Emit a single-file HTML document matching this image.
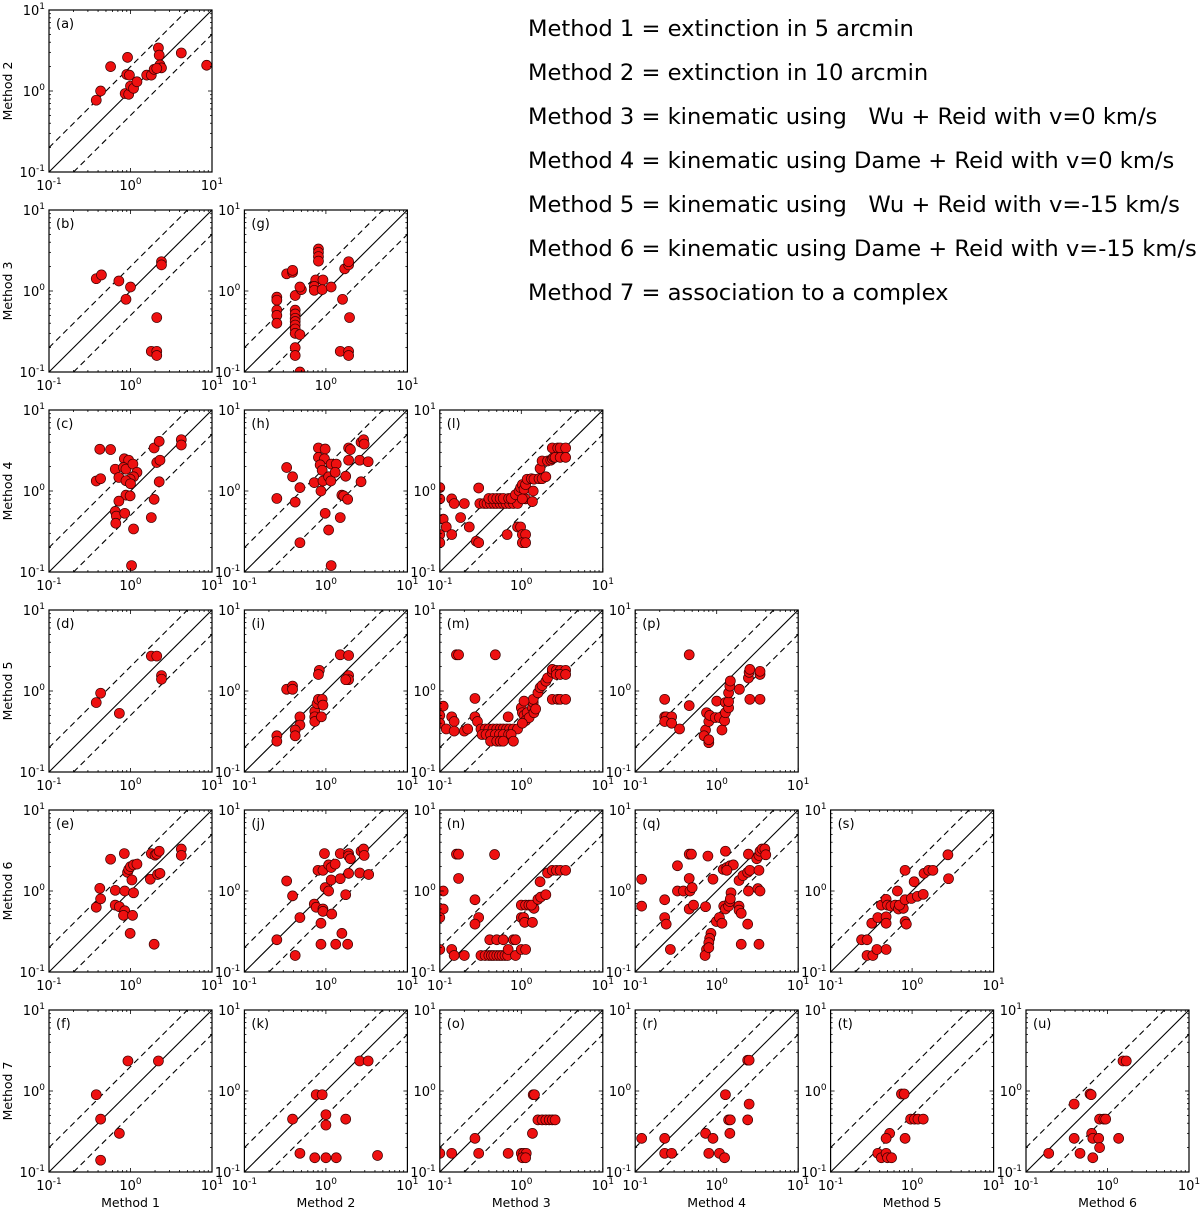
<!DOCTYPE html>
<html><head><meta charset="utf-8"><title>Method comparison matrix</title>
<style>
html,body{margin:0;padding:0;background:#fff;}
#wrap{position:relative;width:1200px;height:1217px;overflow:hidden;}
svg text{font-family:"DejaVu Sans","Liberation Sans",sans-serif;fill:#000;}
</style></head>
<body>
<div id="wrap">
<svg id="chart" width="1200" height="1217" viewBox="0 0 1200 1217" xmlns="http://www.w3.org/2000/svg">
<g font-size="22.6" style="white-space:pre">
<text x="528" y="36" xml:space="preserve">Method 1 = extinction in 5 arcmin</text>
<text x="528" y="80" xml:space="preserve">Method 2 = extinction in 10 arcmin</text>
<text x="528" y="124" xml:space="preserve">Method 3 = kinematic using   Wu + Reid with v=0 km/s</text>
<text x="528" y="168" xml:space="preserve">Method 4 = kinematic using Dame + Reid with v=0 km/s</text>
<text x="528" y="212" xml:space="preserve">Method 5 = kinematic using   Wu + Reid with v=-15 km/s</text>
<text x="528" y="256" xml:space="preserve">Method 6 = kinematic using Dame + Reid with v=-15 km/s</text>
<text x="528" y="300" xml:space="preserve">Method 7 = association to a complex</text>
</g>
</svg>
</div>
<script>
const methodNames = ["Method 1","Method 2","Method 3","Method 4","Method 5","Method 6","Method 7"];
const panelLetters = ["a","b","c","d","e","f","g","h","i","j","k","l","m","n","o","p","q","r","s","t","u"];
const tickValues = [0.1, 1, 10];
const tickExps = ["-1","0","1"];

const pA = [[0.38,0.77],[0.43,1.0],[0.57,2.0],[0.92,2.6],[0.86,0.93],[0.9,1.6],[0.97,1.57],[0.95,0.91],[1.0,1.15],[1.09,1.08],[1.2,1.3],[1.58,1.57],[1.8,1.57],[1.95,1.85],[2.2,3.4],[2.25,2.77],[2.3,2.1],[2.4,1.93],[2.1,1.9],[4.2,2.95],[8.6,2.08]];
const pB = [[0.38,1.42],[0.44,1.58],[0.72,1.33],[1.0,1.12],[0.88,0.79],[2.4,2.3],[2.4,2.1],[2.1,0.47],[1.8,0.18],[2.1,0.18],[2.1,0.16]];
const pC = [[0.38,1.33],[0.43,1.42],[0.42,3.28],[0.57,3.25],[0.65,1.86],[0.72,1.47],[0.84,2.5],[0.95,2.4],[0.82,1.95],[0.88,1.86],[1.07,2.15],[1.2,1.7],[1.09,1.5],[0.99,1.4],[0.88,1.34],[1.0,1.23],[0.88,0.89],[0.99,0.87],[0.72,0.75],[0.65,0.56],[0.67,0.49],[0.66,0.4],[0.85,0.53],[1.09,0.34],[1.03,0.12],[1.8,0.47],[1.95,0.79],[1.95,3.4],[2.25,4.1],[2.1,2.25],[2.3,2.4],[2.25,1.3],[4.2,4.3],[4.2,3.7]];
const pD = [[0.38,0.72],[0.43,0.94],[0.73,0.53],[1.8,2.7],[2.1,2.7],[2.4,1.55],[2.4,1.4]];
const pE = [[0.38,0.63],[0.42,1.08],[0.43,0.8],[0.57,2.47],[0.65,1.02],[0.65,0.67],[0.73,0.64],[0.84,2.9],[0.92,1.7],[0.95,1.85],[1.0,2.0],[1.09,2.1],[1.2,2.15],[1.04,1.37],[0.85,1.0],[1.09,0.95],[0.85,0.57],[0.82,0.5],[1.06,0.5],[0.99,0.3],[1.95,0.22],[1.75,1.4],[1.8,2.9],[2.0,2.77],[2.1,2.87],[2.25,3.1],[2.15,1.6],[2.3,1.65],[4.2,3.3],[4.2,2.75]];
const pF = [[0.38,0.9],[0.43,0.45],[0.73,0.3],[0.93,2.35],[2.2,2.35],[0.43,0.14]];
const pG = [[0.25,0.84],[0.25,0.77],[0.25,0.58],[0.25,0.5],[0.25,0.4],[0.33,1.63],[0.39,1.7],[0.39,1.8],[0.42,0.88],[0.42,0.58],[0.42,0.52],[0.42,0.46],[0.42,0.42],[0.42,0.38],[0.42,0.34],[0.42,0.3],[0.42,0.2],[0.42,0.16],[0.5,1.04],[0.48,1.12],[0.48,0.29],[0.48,0.1],[0.81,3.3],[0.81,3.0],[0.81,2.66],[0.81,2.34],[0.75,1.37],[0.72,1.14],[0.72,1.02],[0.92,1.37],[0.9,1.04],[1.16,1.12],[1.7,1.88],[1.9,2.1],[1.9,2.3],[1.6,0.79],[1.95,0.47],[1.5,0.18],[1.9,0.18],[1.9,0.16]];
const pH = [[0.25,0.81],[0.33,1.95],[0.39,1.5],[0.42,0.73],[0.48,1.1],[0.72,1.27],[0.81,3.4],[0.98,3.3],[0.81,2.6],[0.96,2.5],[0.85,2.1],[0.9,1.8],[0.92,1.33],[0.87,1.0],[1.08,1.5],[1.15,1.33],[1.16,2.15],[1.34,2.15],[1.3,1.7],[0.98,0.53],[1.08,0.33],[1.16,0.12],[0.48,0.23],[1.57,0.89],[1.65,0.87],[1.5,0.47],[1.85,0.79],[1.75,1.52],[1.9,2.4],[1.9,3.4],[2.0,3.25],[2.6,2.4],[2.7,4.0],[2.9,4.3],[2.95,3.8],[2.7,1.3],[3.3,2.3]];
const pI = [[0.25,0.28],[0.25,0.24],[0.33,1.05],[0.39,1.15],[0.39,1.05],[0.48,0.48],[0.48,0.38],[0.42,0.33],[0.42,0.28],[0.73,0.56],[0.73,0.48],[0.73,0.42],[0.78,0.7],[0.81,0.79],[0.83,1.8],[0.81,1.6],[0.88,0.48],[0.9,0.79],[0.92,0.67],[1.5,2.8],[1.9,2.75],[1.9,1.55],[1.9,1.38],[1.75,1.38]];
const pJ = [[0.25,0.25],[0.33,1.33],[0.39,0.87],[0.48,0.47],[0.42,0.16],[0.72,0.69],[0.76,0.63],[0.8,1.8],[0.92,1.8],[0.96,2.9],[0.92,0.6],[0.92,0.56],[0.87,0.4],[0.87,0.22],[0.98,1.1],[1.08,1.0],[1.08,2.1],[1.16,1.95],[1.16,1.37],[1.3,2.15],[1.18,0.52],[1.32,0.22],[1.5,2.9],[1.5,1.42],[1.57,0.3],[1.75,0.9],[1.85,0.22],[1.9,2.9],[1.9,2.7],[2.0,2.5],[1.9,1.65],[2.6,1.67],[2.7,3.1],[2.9,3.3],[2.95,2.75],[3.35,1.6]];
const pK = [[0.39,0.45],[0.48,0.17],[0.73,0.15],[1.0,0.15],[1.34,0.15],[0.76,0.9],[0.9,0.9],[1.0,0.51],[1.0,0.38],[1.75,0.45],[2.6,2.35],[3.3,2.35],[4.3,0.16]];
const pL = [[0.1,1.1],[0.1,0.8],[0.11,0.45],[0.1,0.29],[0.1,0.23],[0.12,0.36],[0.14,0.29],[0.14,0.8],[0.15,0.7],[0.18,0.47],[0.2,0.7],[0.23,0.36],[0.28,0.24],[0.3,0.23],[0.3,1.09],[0.31,0.7],[0.35,0.7],[0.38,0.7],[0.42,0.7],[0.46,0.7],[0.5,0.7],[0.55,0.7],[0.6,0.7],[0.65,0.7],[0.72,0.7],[0.8,0.7],[0.9,0.7],[0.4,0.81],[0.45,0.81],[0.5,0.81],[0.55,0.81],[0.6,0.81],[0.7,0.81],[0.75,0.81],[0.67,0.29],[0.9,0.36],[0.98,0.36],[1.03,0.29],[1.13,0.29],[1.03,0.23],[1.13,0.23],[0.85,0.9],[0.94,1.0],[0.98,1.1],[1.03,1.2],[1.08,1.05],[1.13,1.2],[1.13,0.8],[1.03,0.8],[1.18,1.4],[1.33,1.42],[1.37,0.74],[1.4,1.0],[1.43,1.4],[1.65,1.42],[1.8,1.42],[2.0,1.5],[1.7,1.9],[1.8,2.35],[2.1,2.35],[2.3,2.4],[2.4,2.5],[2.5,2.6],[2.4,3.4],[2.8,3.4],[3.0,3.4],[3.5,3.4],[2.6,2.6],[3.0,2.6],[3.5,2.6]];
const pM = [[0.16,2.8],[0.17,2.8],[0.48,2.8],[0.27,0.81],[0.11,0.65],[0.1,0.5],[0.1,0.4],[0.12,0.34],[0.14,0.48],[0.15,0.42],[0.15,0.32],[0.2,0.32],[0.22,0.34],[0.27,0.48],[0.29,0.42],[0.69,0.48],[0.32,0.34],[0.36,0.34],[0.4,0.34],[0.45,0.34],[0.5,0.34],[0.55,0.34],[0.6,0.34],[0.66,0.34],[0.72,0.34],[0.8,0.34],[0.9,0.34],[0.33,0.29],[0.37,0.29],[0.42,0.29],[0.48,0.29],[0.54,0.29],[0.6,0.29],[0.7,0.29],[0.75,0.29],[0.42,0.24],[0.5,0.24],[0.55,0.24],[0.6,0.24],[0.8,0.24],[1.0,0.62],[1.03,0.54],[1.08,0.5],[1.18,0.54],[1.13,0.43],[1.25,0.47],[1.03,0.4],[1.37,0.62],[1.4,0.72],[1.43,0.54],[1.4,0.79],[1.08,0.75],[1.5,0.6],[1.6,0.95],[1.7,1.1],[1.8,1.17],[2.0,1.32],[2.1,1.45],[2.4,1.7],[2.4,1.85],[2.7,1.8],[3.0,1.8],[3.5,1.8],[2.7,1.6],[3.0,1.6],[3.5,1.6],[2.4,0.79],[2.8,0.79],[3.0,0.79],[3.5,0.79]];
const pN = [[0.16,2.85],[0.17,2.85],[0.47,2.82],[0.17,1.43],[0.11,1.0],[0.11,0.6],[0.1,0.47],[0.1,0.19],[0.27,0.78],[0.3,0.47],[0.27,0.39],[0.14,0.19],[0.15,0.16],[0.2,0.16],[0.32,0.16],[0.36,0.16],[0.4,0.16],[0.43,0.16],[0.46,0.16],[0.5,0.16],[0.54,0.16],[0.58,0.16],[0.63,0.16],[0.68,0.16],[0.41,0.25],[0.5,0.25],[0.6,0.25],[0.8,0.25],[0.85,0.25],[0.69,0.19],[0.85,0.16],[1.0,0.19],[1.13,0.19],[1.0,0.67],[1.13,0.67],[1.24,0.67],[1.0,0.47],[1.07,0.47],[1.1,0.41],[1.37,0.41],[1.4,0.65],[1.43,0.61],[1.33,0.67],[1.6,0.79],[1.73,0.84],[2.0,0.9],[1.7,1.3],[2.1,1.67],[2.4,1.8],[2.7,1.8],[3.0,1.8],[3.5,1.8]];
const pO = [[0.1,0.17],[0.14,0.17],[0.27,0.26],[0.3,0.17],[0.69,0.17],[1.0,0.17],[1.07,0.17],[1.15,0.17],[1.03,0.15],[1.13,0.15],[1.37,0.3],[1.4,0.9],[1.45,0.9],[1.6,0.44],[1.8,0.44],[2.0,0.44],[2.2,0.44],[2.4,0.44],[2.6,0.44]];
const pP = [[0.46,2.8],[0.23,0.79],[0.46,0.66],[0.23,0.48],[0.24,0.48],[0.28,0.48],[0.23,0.42],[0.28,0.4],[0.35,0.34],[0.73,0.33],[0.7,0.28],[0.8,0.23],[0.8,0.25],[0.8,0.42],[0.75,0.54],[0.82,0.5],[0.96,0.47],[1.0,0.75],[1.08,0.47],[1.16,0.33],[1.25,0.43],[1.28,0.54],[1.28,0.72],[1.4,0.62],[1.4,0.74],[1.4,0.95],[1.45,1.15],[1.47,1.33],[1.9,1.05],[2.45,1.45],[2.5,1.7],[2.55,1.85],[2.55,0.79],[3.4,1.6],[3.4,1.75],[3.4,0.79]];
const pQ = [[0.12,1.4],[0.12,0.65],[0.23,0.78],[0.23,0.47],[0.24,0.39],[0.27,0.19],[0.33,2.05],[0.33,1.0],[0.39,1.0],[0.46,2.85],[0.49,2.85],[0.46,1.43],[0.47,1.0],[0.5,1.1],[0.46,0.6],[0.52,0.67],[0.78,2.7],[0.9,1.4],[0.73,0.64],[0.99,0.42],[1.08,0.47],[1.16,0.4],[0.85,0.3],[0.82,0.26],[0.8,0.23],[0.75,0.19],[0.72,0.16],[0.8,0.2],[1.28,3.1],[1.2,1.85],[1.33,1.95],[1.46,2.05],[1.6,2.1],[1.33,1.8],[1.22,0.65],[1.28,0.6],[1.4,0.65],[1.45,0.74],[1.5,0.95],[1.47,0.8],[1.88,0.65],[1.88,0.58],[2.0,0.53],[2.4,0.39],[2.0,0.22],[3.3,0.22],[1.88,1.35],[2.1,1.55],[2.4,1.7],[2.55,1.8],[2.45,1.0],[2.45,2.85],[3.1,2.5],[3.3,2.75],[3.4,3.1],[3.6,3.3],[3.9,3.3],[4.0,2.8],[3.3,1.8],[3.2,1.07],[3.4,1.0]];
const pR = [[0.12,0.26],[0.23,0.26],[0.23,0.17],[0.28,0.17],[0.73,0.3],[0.8,0.17],[0.9,0.26],[1.08,0.17],[1.25,0.15],[1.28,0.9],[1.4,0.44],[1.47,0.44],[1.45,0.3],[2.4,2.4],[2.5,2.4],[2.5,0.69],[2.4,0.44]];
const pS = [[0.24,0.25],[0.28,0.25],[0.28,0.16],[0.33,0.16],[0.37,0.19],[0.48,0.19],[0.32,0.4],[0.38,0.47],[0.48,0.48],[0.48,0.4],[0.42,0.67],[0.48,0.79],[0.5,0.67],[0.55,0.65],[0.62,0.67],[0.68,0.6],[0.78,0.61],[0.7,0.67],[0.66,1.0],[0.82,0.78],[0.82,0.42],[0.85,0.39],[0.98,0.81],[1.16,0.86],[1.37,0.91],[1.06,1.3],[0.82,1.8],[1.4,1.65],[1.6,1.8],[1.8,1.8],[2.75,2.8],[2.8,1.42]];
const pT = [[0.74,0.92],[0.8,0.92],[0.96,0.45],[1.07,0.45],[1.18,0.45],[1.37,0.45],[0.82,0.26],[0.53,0.3],[0.48,0.26],[0.38,0.17],[0.42,0.15],[0.48,0.17],[0.5,0.15],[0.56,0.15]];
const pU = [[0.19,0.17],[0.39,0.69],[0.39,0.26],[0.46,0.17],[0.61,0.92],[0.63,0.9],[0.64,0.3],[0.66,0.26],[0.66,0.15],[0.78,0.26],[0.8,0.2],[0.8,0.45],[0.9,0.45],[0.95,0.45],[1.37,0.26],[1.55,2.35],[1.7,2.35]];

const panelData = [pA,pB,pC,pD,pE,pF,pG,pH,pI,pJ,pK,pL,pM,pN,pO,pP,pQ,pR,pS,pT,pU];

const NS = "http://www.w3.org/2000/svg";
const svg = document.getElementById("chart");
const W = 163, H = 162, X0 = 49, Y0 = 10, DX = 195.4, DY = 200;
function mk(tag, attrs, parent){ const e=document.createElementNS(NS,tag); for(const k in attrs) e.setAttribute(k,attrs[k]); parent.appendChild(e); return e; }
function lg(v){ return Math.log10(v); }

let idx = 0;
for (let c = 0; c < 6; c++) {
  for (let r = c; r < 6; r++) {
    const left = X0 + c*DX, top = Y0 + r*DY;
    const sx = v => left + (lg(v)+1)/2*W;
    const sy = v => top + H - (lg(v)+1)/2*H;
    const letter = panelLetters[idx];
    const data = panelData[idx];
    idx++;
    const g = mk("g", {}, svg);
    
    
    const cp = mk("clipPath", {id:"clip-"+letter}, g);
    mk("rect", {x:left, y:top, width:W, height:H}, cp);
    const lines = mk("g", {"clip-path":"url(#clip-"+letter+")"}, g);
    const diag = mk("line", {x1:sx(0.1), y1:sy(0.1), x2:sx(10), y2:sy(10), stroke:"#000","stroke-width":1.1}, lines);
    
    
    const up = mk("line", {x1:sx(0.1), y1:sy(0.2), x2:sx(5), y2:sy(10), stroke:"#000","stroke-width":1.1,"stroke-dasharray":"6,4"}, lines);
    
    
    const dn = mk("line", {x1:sx(0.2), y1:sy(0.1), x2:sx(10), y2:sy(5), stroke:"#000","stroke-width":1.1,"stroke-dasharray":"6,4"}, lines);
    
    
    for (const p of data) {
      const ci = mk("circle", {cx:sx(p[0]), cy:sy(p[1]), r:5, fill:"#ee1010", stroke:"#3a0000","stroke-width":0.7}, lines);
      
      
    }
    const tk = mk("g", {stroke:"#000","stroke-width":0.8}, g);
    for (let e = -1; e <= 1; e++) {
      for (let m = 1; m <= 9; m++) {
        const v = m*Math.pow(10,e);
        if (v > 10.0001) continue;
        const len = (m===1) ? 4 : 2;
        const x = sx(v), y = sy(v);
        mk("line",{x1:x,y1:top+H,x2:x,y2:top+H-len},tk);
        mk("line",{x1:x,y1:top,x2:x,y2:top+len},tk);
        mk("line",{x1:left,y1:y,x2:left+len,y2:y},tk);
        mk("line",{x1:left+W,y1:y,x2:left+W-len,y2:y},tk);
      }
    }
    const frame = mk("rect", {x:left, y:top, width:W, height:H, fill:"none", stroke:"#000","stroke-width":1.2}, g);
    
    
    const pl = mk("text", {x:left+7, y:top+18, "font-size":13}, g);
    pl.textContent = "(" + letter + ")";
    
    
    for (let i = 0; i < tickValues.length; i++) {
      const xt = mk("text", {x:sx(tickValues[i]), y:top+H+18, "font-size":13, "text-anchor":"middle"}, g);
      
      
      xt.appendChild(document.createTextNode("10"));
      const s1 = mk("tspan", {dy:-6, "font-size":9}, xt); s1.textContent = tickExps[i];
      const yt = mk("text", {x:left-4, y:sy(tickValues[i])+5, "font-size":13, "text-anchor":"end"}, g);
      
      
      yt.appendChild(document.createTextNode("10"));
      const s2 = mk("tspan", {dy:-6, "font-size":9}, yt); s2.textContent = tickExps[i];
    }
    if (c === 0) {
      const cy = top + H/2;
      const yl = mk("text", {x:12, y:cy, "font-size":12.5, "text-anchor":"middle", transform:"rotate(-90 12 "+cy+")"}, g);
      yl.textContent = methodNames[r+1];
      
      
    }
    if (r === 5) {
      const xl = mk("text", {x:left+W/2, y:top+H+35, "font-size":12.5, "text-anchor":"middle"}, g);
      xl.textContent = methodNames[c];
      
      
    }
  }
}
</script>
</body></html>
